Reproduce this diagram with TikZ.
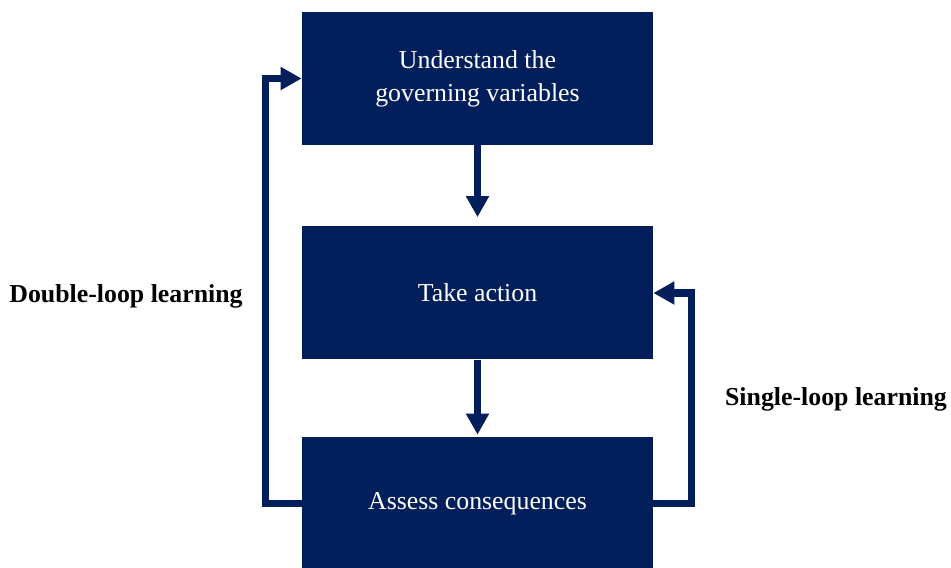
\documentclass[tikz,border=0pt]{standalone}
\usepackage{fontspec}
\setmainfont{Liberation Serif}
\usetikzlibrary{arrows.meta}
\definecolor{navy}{RGB}{3,31,91}

\begin{document}
\begin{tikzpicture}[
  x=1cm,
  y=1cm,
  stage/.style={
    rectangle,
    fill=navy,
    draw=none,
    minimum width=7.02cm,
    minimum height=2.66cm,
    inner sep=0pt,
    text=white,
    align=center,
    font=\fontsize{14.7}{18.8}\selectfont
  },
  flow/.style={
    draw=navy,
    line width=4pt,
    -{Triangle[width=12.5pt,length=12pt]}
  },
  looplabel/.style={font=\fontsize{14.7}{17}\selectfont\bfseries, text=black}
]
\useasboundingbox (0,0) rectangle (19.02,11.34);

% ---------------------------------------------------------------------------
% Stages
% ---------------------------------------------------------------------------
\node[stage] (understand) at (9.55,9.77) {Understand the\\governing variables};
\node[stage] (action) at (9.55,5.48) {Take action};
\node[stage] (assess) at (9.55,1.27) {Assess consequences};

\draw[flow, shorten >=0.18cm] (understand) -- (action);
\draw[flow, shorten >=0.04cm] (action) -- (assess);

% ---------------------------------------------------------------------------
% Feedback loops
% ---------------------------------------------------------------------------
\draw[flow] (assess.west) -- ++(-0.72,0) |- (understand.west);
\draw[flow] (assess.east) -- ++(0.76,0) |- (action.east);

\node[looplabel] (doubleloop) at (2.52,5.42) {Double-loop learning};
\node[looplabel] (singleloop) at (16.72,3.36) {Single-loop learning};
\end{tikzpicture}
\end{document}
